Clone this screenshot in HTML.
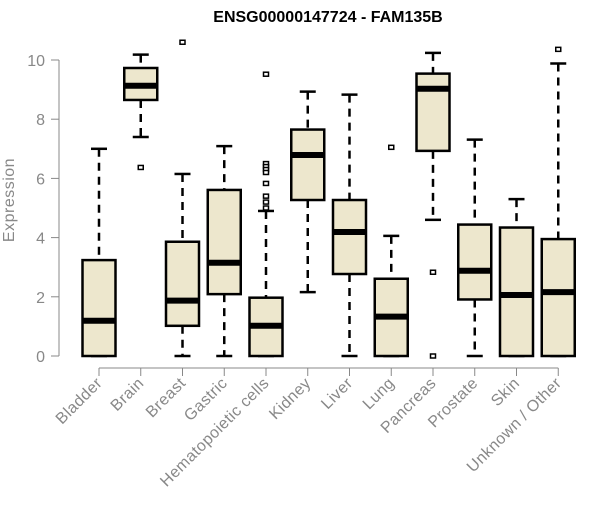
<!DOCTYPE html>
<html><head><meta charset="utf-8"><style>
body{margin:0;background:#fff}
svg text{font-family:"Liberation Sans",Arial,sans-serif}
</style></head><body>
<svg id="chart" width="600" height="500">
<text x="328" y="22" text-anchor="middle" font-weight="bold" font-size="16">ENSG00000147724 - FAM135B</text>
<text transform="translate(14,200) rotate(-90)" text-anchor="middle" font-size="16" letter-spacing="0.5" fill="#888">Expression</text>
<g id="axes"></g><g id="boxes"></g>
</svg>
<script>
const categories=["Bladder","Brain","Breast","Gastric","Hematopoietic cells","Kidney","Liver","Lung","Pancreas","Prostate","Skin","Unknown / Other"];
const lowerWhisker=[0,7.4,0,0,0,2.16,0,0,4.6,0,0,0];
const q1=[0,8.65,1.02,2.09,0,5.27,2.77,0,6.93,1.91,0,0];
const median=[1.19,9.13,1.87,3.15,1.02,6.79,4.19,1.33,9.03,2.88,2.06,2.16];
const q3=[3.24,9.73,3.86,5.61,1.97,7.65,5.27,2.61,9.54,4.44,4.34,3.95];
const upperWhisker=[7.0,10.18,6.15,7.09,4.9,8.93,8.83,4.06,10.24,7.31,5.3,9.88];
const outliers=[[],[6.37],[10.6],[],[9.52,6.5,6.4,6.3,6.2,5.83,5.4,5.2,5.0],[],[],[7.05],[2.83,0],[],[],[10.36]];
const yTicks=[0,2,4,6,8,10];
const NS="http://www.w3.org/2000/svg";
const y=v=>356-v*29.6;
const x=i=>99+i*41.75;
function mk(t,a,p){const e=document.createElementNS(NS,t);for(const k in a)e.setAttribute(k,a[k]);p.appendChild(e);return e;}
const ax=document.getElementById('axes'),bx=document.getElementById('boxes');
let yl=mk('line',{x1:59,x2:59,y1:y(0),y2:y(10),stroke:'#888','stroke-width':1},ax);


yTicks.forEach(t=>{
 let l=mk('line',{x1:51,x2:59,y1:y(t),y2:y(t),stroke:'#888'},ax);
 
 
 let tx=mk('text',{x:45,y:y(t)+6,'text-anchor':'end','font-size':16,fill:'#888'},ax);tx.textContent=t;
 
 
});
let xl=mk('line',{x1:x(0),x2:x(categories.length-1),y1:368,y2:368,stroke:'#888'},ax);


categories.forEach((c,i)=>{
 let l=mk('line',{x1:x(i),x2:x(i),y1:368,y2:376,stroke:'#888'},ax);
 
 
 let tx=mk('text',{transform:`translate(${x(i)+4},${384}) rotate(-45)`,'text-anchor':'end','font-size':16,'letter-spacing':0.4,fill:'#888'},ax);tx.textContent=c;
 
 
 const g=mk('g',{},bx);
 
 
 const cx=x(i),hw=16.5,cap=8;
 mk('line',{x1:cx,x2:cx,y1:y(upperWhisker[i]),y2:y(q3[i]),stroke:'#000','stroke-width':2.5,'stroke-dasharray':'8,6'},g);
 mk('line',{x1:cx,x2:cx,y1:y(q1[i]),y2:y(lowerWhisker[i]),stroke:'#000','stroke-width':2.5,'stroke-dasharray':'8,6'},g);
 mk('line',{x1:cx-cap,x2:cx+cap,y1:y(upperWhisker[i]),y2:y(upperWhisker[i]),stroke:'#000','stroke-width':2.5},g);
 mk('line',{x1:cx-cap,x2:cx+cap,y1:y(lowerWhisker[i]),y2:y(lowerWhisker[i]),stroke:'#000','stroke-width':2.5},g);
 mk('rect',{x:cx-hw,y:y(q3[i]),width:2*hw,height:y(q1[i])-y(q3[i]),fill:'#ede7cd',stroke:'#000','stroke-width':2.5},g);
 mk('line',{x1:cx-hw,x2:cx+hw,y1:y(median[i]),y2:y(median[i]),stroke:'#000','stroke-width':6},g);
 outliers[i].forEach(o=>{
  let r=mk('rect',{x:cx-2.5,y:y(o)-2,width:5,height:4,fill:'#fff',stroke:'#000','stroke-width':1.5},g);
  
  
 });
});
</script>
</body></html>
